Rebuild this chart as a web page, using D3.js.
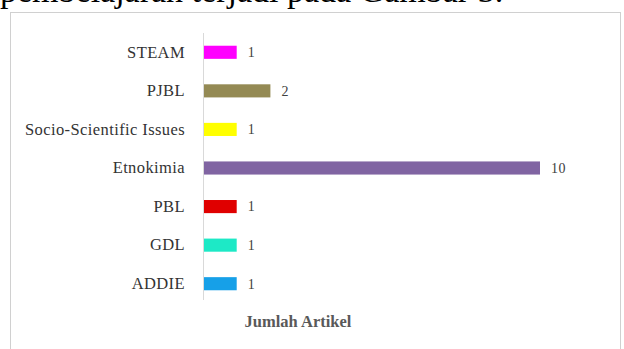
<!DOCTYPE html>
<html>
<head>
  <meta charset="UTF-8">
  <title>Jumlah Artikel</title>
  <script src="https://d3js.org/d3.v7.min.js"></script>
  <style>
    body { margin: 0; background: #fff; }
    svg { display: block; }
    text { font-family: "Liberation Serif", "Times New Roman", serif; }
  </style>
</head>
<body>
<div class="chart"></div>
<script>
  // data
  var categories = ['STEAM', 'PJBL', 'Socio-Scientific Issues', 'Etnokimia', 'PBL', 'GDL', 'ADDIE'];
  var values = [1, 2, 1, 10, 1, 1, 1];
  var colors = ['#ff00ff', '#948a54', '#ffff00', '#8064a2', '#e00000', '#1de9c6', '#16a0e8'];
  var xTitle = 'Jumlah Artikel';
  var caption = 'pembelajaran terjadi pada Gambar 3.';

  var W = 624, H = 349;

  var svg = d3.select('.chart')
    .append('svg')
      .attr('width', W)
      .attr('height', H);

  // line of document text above the figure, cut by the page top
  svg.append('text')
    .attr('x', 0)
    .attr('y', 2)
    .style('font-size', '34px')
    .style('fill', '#000')
    .text(caption);

  // figure frame
  svg.append('rect')
    .attr('x', 10.5)
    .attr('y', 12.5)
    .attr('width', 610)
    .attr('height', 350)
    .attr('fill', '#fff')
    .attr('stroke', '#d0d0d0')
    .attr('stroke-width', 1);

  var xScale = d3.scaleLinear()
    .domain([0, 10])
    .range([203, 540]);

  var yScale = d3.scaleBand()
    .domain(categories)
    .range([33, 303])
    .paddingInner(0.66)
    .paddingOuter(0.33);

  // vertical axis line and category labels
  var yAxis = d3.axisLeft(yScale).tickSize(0).tickPadding(18);
  var gy = svg.append('g')
    .attr('transform', 'translate(' + xScale(0) + ',0)')
    .call(yAxis);
  gy.select('.domain')
    .attr('d', 'M0.5,33V300')
    .attr('stroke', '#d9d9d9');
  gy.selectAll('text')
    .style('font-family', '"Liberation Serif", "Times New Roman", serif')
    .style('font-size', '16.5px')
    .style('letter-spacing', '0.4px')
    .style('fill', '#333');

  var rows = categories.map(function(c, i) { return {cat: c, val: values[i], color: colors[i]}; });

  svg.selectAll('rect.bar')
    .data(rows)
    .enter()
    .append('rect')
      .attr('class', 'bar')
      .attr('x', xScale(0) + 1)
      .attr('y', d => yScale(d.cat))
      .attr('width', d => xScale(d.val) - xScale(0) - 1)
      .attr('height', yScale.bandwidth())
      .attr('fill', d => d.color);

  svg.selectAll('text.val')
    .data(rows)
    .enter()
    .append('text')
      .attr('class', 'val')
      .attr('x', d => xScale(d.val) + 11)
      .attr('y', d => yScale(d.cat) + yScale.bandwidth() / 2)
      .attr('dy', '0.35em')
      .style('font-size', '14px')
      .style('letter-spacing', '0.5px')
      .style('fill', '#404040')
      .text(d => d.val);

  svg.append('text')
    .attr('x', 298)
    .attr('y', 327)
    .attr('text-anchor', 'middle')
    .style('font-size', '16.5px')
    .style('font-weight', 'bold')
    .style('fill', '#595959')
    .text(xTitle);
</script>
</body>
</html>
